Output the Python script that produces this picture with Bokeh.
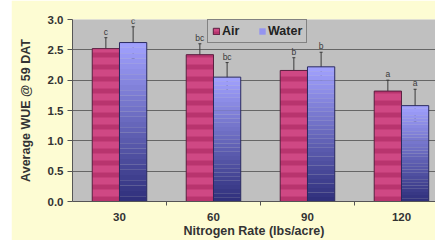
from bokeh.plotting import figure
from bokeh.layouts import row
from bokeh.models import (ColumnDataSource, Range1d, FixedTicker, NumeralTickFormatter,
                          Whisker, TeeHead, Legend, LegendItem, Spacer)
from bokeh.core.properties import value
from bokeh.embed import file_html
from bokeh.resources import INLINE

# ---- data ----
categories = ["30", "60", "90", "120"]
air = [2.52, 2.42, 2.16, 1.82]
water = [2.62, 2.05, 2.22, 1.58]
air_err = [0.18, 0.18, 0.21, 0.18]
water_err = [0.26, 0.24, 0.24, 0.27]
air_letters = ["c", "bc", "b", "a"]
water_letters = ["c", "bc", "b", "a"]
y_ticks = [0.0, 0.5, 1.0, 1.5, 2.0, 2.5, 3.0]

FONT = "Liberation Sans"
BG = "#fdfcd3"
PLOT_BG = "#c0c0c0"
BAR_W = 0.29

centers = [i + 0.5 for i in range(len(categories))]
air_x = [c - BAR_W / 2 for c in centers]
water_x = [c + BAR_W / 2 for c in centers]

p = figure(width=424, height=240, output_backend="svg", toolbar_location=None,
           x_range=Range1d(0, 3.862), y_range=Range1d(0, 3.0),
           min_border_left=61, min_border_right=0, min_border_top=19, min_border_bottom=36)
p.border_fill_color = BG
p.background_fill_color = PLOT_BG
p.outline_line_color = None

# Air bars (striped)
air_src = ColumnDataSource(dict(x=air_x, top=air, err=air_err,
                                up=[a + e for a, e in zip(air, air_err)],
                                lo=[a - e for a, e in zip(air, air_err)],
                                lab=air_letters))
r_air = p.vbar(x="x", top="top", bottom=0, width=BAR_W, source=air_src,
               fill_color="#cf4884", line_color="#5a2040", line_width=1,
               hatch_pattern="horizontal_line", hatch_color="#b8346e",
               hatch_scale=12, hatch_weight=5)

# Water bars (vertical gradient built from slices of each bar)
N = 30
dark = (0x2e, 0x2e, 0x7a)
light = (0xa2, 0xa2, 0xff)
wx, wb, wt, wc = [], [], [], []
for x, v in zip(water_x, water):
    for k in range(N):
        t = (k + 0.5) / N
        col = tuple(int(round(d + (l - d) * t)) for d, l in zip(dark, light))
        wx.append(x)
        wb.append(v * k / N)
        wt.append(v * (k + 1) / N)
        wc.append("#%02x%02x%02x" % col)
ws = ColumnDataSource(dict(x=wx, bottom=wb, top=wt, color=wc))
r_water = p.vbar(x="x", bottom="bottom", top="top", width=BAR_W, source=ws,
                 fill_color="color", line_color=None)
water_src = ColumnDataSource(dict(x=water_x, top=water, err=water_err,
                                  up=[a + e for a, e in zip(water, water_err)],
                                  lo=[a - e for a, e in zip(water, water_err)],
                                  lab=water_letters))
p.vbar(x="x", top="top", bottom=0, width=BAR_W, source=water_src,
       fill_color=None, line_color="#2a2a60", line_width=1)

# error bars
for src in (air_src, water_src):
    w = Whisker(base="x", upper="up", lower="lo", source=src,
                line_color="#3a3a3a", line_width=1,
                upper_head=TeeHead(size=3, line_color="#3a3a3a"),
                lower_head=TeeHead(size=3, line_color="#3a3a3a"))
    p.add_layout(w)
    p.text(x="x", y="up", text="lab", source=src, text_font=value(FONT),
           text_font_size="8.5px", text_color="#3a3a3a", text_align="center",
           text_baseline="bottom", y_offset=-1)

# axes
p.xaxis.ticker = FixedTicker(ticks=centers, minor_ticks=[1, 2, 3])
p.xaxis.major_label_overrides = {c: lab for c, lab in zip(centers, categories)}
p.xaxis.major_tick_out = 0
p.xaxis.major_tick_in = 0
p.xaxis.minor_tick_out = 4
p.xaxis.minor_tick_in = 0
p.xaxis.major_label_standoff = 7
p.xaxis.axis_label = "Nitrogen Rate (lbs/acre)"
p.xaxis.axis_label_standoff = 0

p.yaxis.ticker = FixedTicker(ticks=y_ticks)
p.yaxis.formatter = NumeralTickFormatter(format="0.0")
p.yaxis.major_tick_out = 5
p.yaxis.major_tick_in = 0
p.yaxis.major_label_standoff = 4
p.yaxis.axis_label = "Average WUE @ 59 DAT"
p.yaxis.axis_label_standoff = 12

for ax in (p.xaxis, p.yaxis):
    ax.axis_line_color = "#555555"
    ax.major_tick_line_color = "#555555"
    ax.minor_tick_line_color = "#555555"
    ax.major_label_text_font = FONT
    ax.major_label_text_font_style = "bold"
    ax.major_label_text_font_size = "11.5px"
    ax.major_label_text_color = "#333333"
    ax.axis_label_text_font = FONT
    ax.axis_label_text_font_style = "bold"
    ax.axis_label_text_font_size = "12.5px"
    ax.axis_label_text_color = "#333333"
p.yaxis.minor_tick_line_color = None

p.xgrid.grid_line_color = None
p.ygrid.grid_line_color = "#666666"
p.ygrid.grid_line_width = 1

legend = Legend(items=[LegendItem(label="Air", renderers=[r_air]),
                       LegendItem(label="Water", renderers=[r_water], index=N - 4)],
                orientation="horizontal", location=(135, 158),
                glyph_width=8, glyph_height=8, label_standoff=2, spacing=16,
                padding=4, margin=0, label_height=10,
                label_text_font=FONT, label_text_font_style="bold",
                label_text_font_size="12.5px", label_text_color="#222222",
                background_fill_color="#c4c4c4", background_fill_alpha=1,
                border_line_color="#404040", border_line_width=1)
p.add_layout(legend)

layout = row(Spacer(width=11, height=240), p, spacing=0)
open("out.html", "w").write(file_html(layout, INLINE))
